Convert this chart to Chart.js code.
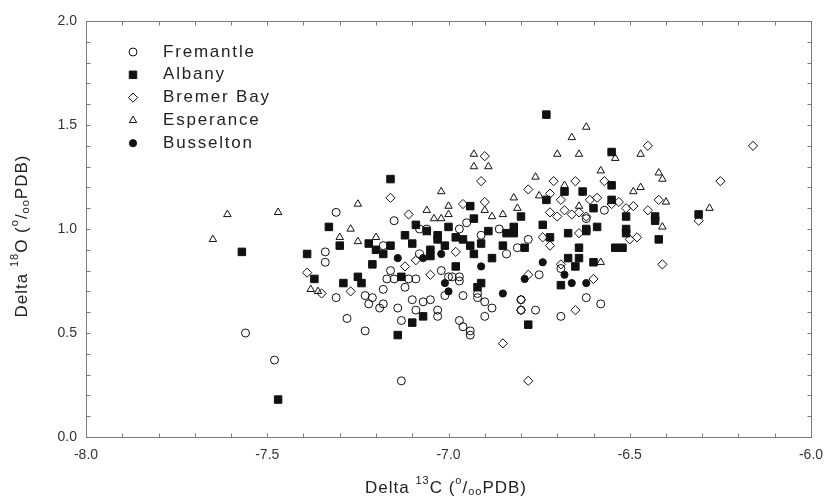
<!DOCTYPE html>
<html>
<head>
<meta charset="utf-8">
<script src="https://cdn.jsdelivr.net/npm/chart.js@4.4.1/dist/chart.umd.min.js"></script>
<style>
html, body { margin: 0; padding: 0; background: #fff; }
#wrap { width: 836px; height: 501px; }
</style>
</head>
<body>
<div id="wrap"><canvas id="scatter-chart"></canvas></div>
<script>
// [delta 13C, delta 18O]
var fremantle = [
  [-7.56,0.50],[-7.48,0.37],[-7.34,0.89],[-7.34,0.84],[-7.31,1.08],[-7.15,1.04],[-7.18,0.92],
  [-7.08,0.88],[-7.08,1.00],[-7.06,1.00],[-6.97,1.00],[-7.16,0.80],[-7.17,0.76],[-7.15,0.76],
  [-7.11,0.76],[-7.09,0.76],[-7.02,0.80],[-7.00,0.77],[-6.99,0.77],[-6.97,0.77],[-7.31,0.67],
  [-7.23,0.68],[-7.21,0.67],[-7.18,0.71],[-7.22,0.64],[-7.18,0.64],[-7.19,0.62],[-7.14,0.62],
  [-7.28,0.57],[-7.23,0.51],[-7.13,0.56],[-7.10,0.66],[-7.09,0.61],[-7.07,0.65],[-7.05,0.66],
  [-7.03,0.61],[-7.03,0.58],[-7.12,0.72],[-7.13,0.27],[-7.01,0.68],[-6.96,0.68],[-6.97,0.56],
  [-6.96,0.53],[-6.94,0.51],[-6.94,0.49],[-6.92,0.69],[-6.92,0.67],[-6.90,0.65],[-6.88,0.62],
  [-6.90,0.58],[-6.97,0.75],[-6.78,0.95],[-6.81,0.91],[-6.84,0.88],[-6.75,0.78],[-6.69,0.81],
  [-6.69,0.58],[-6.80,0.66],[-6.80,0.61],[-6.76,0.61],[-6.62,0.67],[-6.58,0.64],[-6.62,1.05],
  [-6.57,1.09],[-6.95,1.03],[-6.91,0.97],[-6.86,1.00]
];
var albany = [
  [-7.57,0.89],[-7.47,0.18],[-7.39,0.88],[-7.37,0.76],[-7.33,1.01],[-7.16,1.24],[-7.30,0.92],
  [-7.22,0.93],[-7.20,0.90],[-7.18,0.88],[-7.16,0.92],[-7.21,0.83],[-7.05,0.90],[-7.05,0.87],
  [-7.29,0.74],[-7.25,0.77],[-7.24,0.74],[-7.13,0.77],[-6.98,0.82],[-6.94,1.11],[-6.93,1.05],
  [-7.03,0.97],[-7.00,1.01],[-7.03,0.95],[-7.01,0.92],[-6.98,0.96],[-6.96,0.95],[-6.94,0.92],
  [-6.93,0.88],[-7.09,1.02],[-7.06,0.99],[-6.73,1.55],[-6.55,1.37],[-6.55,1.21],[-6.63,1.18],
  [-6.68,1.18],[-6.73,1.14],[-6.55,1.14],[-6.60,1.10],[-6.80,1.06],[-6.51,1.06],[-6.82,1.01],
  [-6.74,1.02],[-6.62,1.00],[-6.59,1.01],[-6.43,1.06],[-6.43,1.04],[-6.31,1.07],[-6.51,1.00],
  [-6.92,0.72],[-6.91,0.74],[-7.07,0.58],[-7.10,0.55],[-7.14,0.49],[-6.84,0.98],[-6.82,0.98],
  [-6.85,0.92],[-6.79,0.91],[-6.72,0.96],[-6.67,0.98],[-6.64,0.91],[-6.62,0.99],[-6.54,0.91],
  [-6.52,0.91],[-6.51,0.98],[-6.42,0.95],[-6.67,0.86],[-6.64,0.86],[-6.65,0.82],[-6.60,0.84],
  [-6.69,0.73],[-6.78,0.54],[-7.10,0.93],[-7.12,0.97],[-6.91,0.93],[-6.89,0.99],[-6.88,0.86]
];
var bremerBay = [
  [-7.39,0.79],[-7.16,1.15],[-7.11,1.07],[-7.12,0.82],[-7.09,0.85],[-7.05,0.78],[-6.98,0.89],
  [-6.96,1.12],[-7.27,0.70],[-7.35,0.69],[-6.85,0.45],[-6.80,0.66],[-6.80,0.61],[-6.90,1.35],
  [-6.91,1.23],[-6.71,1.23],[-6.65,1.23],[-6.57,1.23],[-6.78,1.19],[-6.72,1.17],[-6.69,1.14],
  [-6.61,1.14],[-6.59,1.15],[-6.55,1.12],[-6.51,1.10],[-6.49,1.11],[-6.90,1.13],[-6.45,1.40],
  [-6.16,1.40],[-6.25,1.23],[-6.42,1.14],[-6.53,1.13],[-6.45,1.09],[-6.31,1.04],[-6.74,0.96],
  [-6.72,0.92],[-6.64,0.98],[-6.48,0.96],[-6.50,0.95],[-6.60,0.76],[-6.65,0.61],[-6.78,0.78],
  [-6.69,0.83],[-6.78,0.27],[-6.72,1.08],[-6.70,1.06],[-6.68,1.09],[-6.66,1.07],[-6.64,1.08],
  [-6.62,1.06],[-6.41,0.83]
];
var esperance = [
  [-7.61,1.07],[-7.47,1.08],[-7.65,0.95],[-7.38,0.71],[-7.36,0.70],[-7.25,1.12],[-7.02,1.18],
  [-7.27,1.00],[-7.30,0.96],[-7.25,0.94],[-7.20,0.96],[-7.06,1.09],[-7.04,1.05],[-7.02,1.05],
  [-7.00,1.07],[-7.00,1.11],[-6.93,1.36],[-6.93,1.30],[-6.89,1.30],[-6.62,1.49],[-6.66,1.44],
  [-6.70,1.36],[-6.64,1.36],[-6.54,1.34],[-6.47,1.36],[-6.76,1.25],[-6.58,1.28],[-6.68,1.21],
  [-6.49,1.18],[-6.75,1.16],[-6.82,1.15],[-6.81,1.10],[-6.64,1.11],[-6.90,1.09],[-6.85,1.07],
  [-6.88,1.06],[-6.42,1.27],[-6.41,1.24],[-6.47,1.20],[-6.40,1.13],[-6.28,1.10],[-6.41,1.01],
  [-6.58,0.84]
];
var busselton = [
  [-7.14,0.86],[-7.07,0.86],[-7.00,0.70],[-7.01,0.74],[-6.85,0.69],[-6.74,0.84],[-6.79,0.76],
  [-6.68,0.78],[-6.66,0.74],[-6.62,0.74],[-6.91,0.82],[-7.02,0.88]
];

var xTitle = [['Delta ', 0], ['13', -1], ['C (', 0], ['o', -1], ['/', 0], ['oo', 1], ['PDB)', 0]];
var yTitle = [['Delta ', 0], ['18', -1], ['O (', 0], ['o', -1], ['/', 0], ['oo', 1], ['PDB)', 0]];

function pts(arr) {
  return arr.map(function (p) { return { x: p[0], y: p[1] }; });
}

var ink = '#111';
var fontFamily = "'Liberation Sans', Arial, Helvetica, sans-serif";

// frame with inward ticks on all four sides
var framePlugin = {
  id: 'frame',
  beforeDatasetsDraw: function (chart) {
    var ctx = chart.ctx, a = chart.chartArea;
    var l = Math.round(a.left) + 0.5, r = Math.round(a.right) + 0.5;
    var t = Math.round(a.top) + 0.5, b = Math.round(a.bottom) + 0.5;
    ctx.save();
    ctx.strokeStyle = '#7a7a7a';
    ctx.lineWidth = 1;
    ctx.strokeRect(l, t, r - l, b - t);
    ctx.beginPath();
    chart.scales.x.ticks.forEach(function (tk) {
      var px = Math.round(chart.scales.x.getPixelForValue(tk.value)) + 0.5;
      ctx.moveTo(px, b); ctx.lineTo(px, b - 4);
      ctx.moveTo(px, t); ctx.lineTo(px, t + 4);
    });
    chart.scales.y.ticks.forEach(function (tk) {
      var py = Math.round(chart.scales.y.getPixelForValue(tk.value)) + 0.5;
      ctx.moveTo(l, py); ctx.lineTo(l + 4, py);
      ctx.moveTo(r, py); ctx.lineTo(r - 4, py);
    });
    ctx.stroke();
    ctx.restore();
  }
};

function richText(ctx, parts, cx, cy, size) {
  var small = Math.round(size * 0.65);
  var w = 0;
  parts.forEach(function (p) {
    ctx.font = (p[1] ? small : size) + 'px ' + fontFamily;
    w += ctx.measureText(p[0]).width;
  });
  var x = cx - w / 2;
  parts.forEach(function (p) {
    ctx.font = (p[1] ? small : size) + 'px ' + fontFamily;
    var dy = p[1] < 0 ? -size * 0.4 : (p[1] > 0 ? size * 0.25 : 0);
    ctx.fillText(p[0], x, cy + dy);
    x += ctx.measureText(p[0]).width;
  });
}

// axis titles with super/subscripts, and the legend inside the plot
var textPlugin = {
  id: 'texts',
  afterDraw: function (chart) {
    var ctx = chart.ctx;
    ctx.save();
    ctx.fillStyle = '#222';
    ctx.textBaseline = 'middle';
    ctx.textAlign = 'left';
    ctx.letterSpacing = '1px';
    richText(ctx, xTitle, 446, 488, 17);
    ctx.save();
    ctx.translate(22, 236);
    ctx.rotate(-Math.PI / 2);
    richText(ctx, yTitle, 0, 0, 17);
    ctx.restore();

    ctx.letterSpacing = '1.8px';
    ctx.font = '17px ' + fontFamily;
    chart.data.datasets.forEach(function (ds, i) {
      var y = 52 + i * 22.8;
      ctx.fillStyle = ds.backgroundColor;
      ctx.strokeStyle = ds.borderColor;
      ctx.lineWidth = ds.borderWidth;
      Chart.helpers.drawPoint(ctx, {
        pointStyle: ds.pointStyle, radius: ds.pointRadius, borderWidth: ds.borderWidth, rotation: 0
      }, 133, y);
      ctx.fillStyle = '#222';
      ctx.fillText(ds.label, 163, y);
    });
    ctx.restore();
  }
};

function tickLabel(v) {
  var n = Math.round(v * 10);
  return Math.abs(n % 5) === 0 ? (n / 10).toFixed(1) : '';
}

new Chart(document.getElementById('scatter-chart'), {
  type: 'scatter',
  data: {
    datasets: [{
      label: 'Fremantle',
      data: pts(fremantle),
      pointStyle: 'circle',
      pointRadius: 4,
      borderWidth: 1,
      borderColor: ink,
      backgroundColor: 'rgba(0,0,0,0)'
    }, {
      label: 'Albany',
      data: pts(albany),
      pointStyle: 'rect',
      pointRadius: 5.3,
      borderWidth: 1,
      borderColor: ink,
      backgroundColor: ink
    }, {
      label: 'Bremer Bay',
      data: pts(bremerBay),
      pointStyle: 'rectRot',
      pointRadius: 4.6,
      borderWidth: 1,
      borderColor: ink,
      backgroundColor: 'rgba(0,0,0,0)'
    }, {
      label: 'Esperance',
      data: pts(esperance),
      pointStyle: 'triangle',
      pointRadius: 4.3,
      borderWidth: 1,
      borderColor: ink,
      backgroundColor: 'rgba(0,0,0,0)'
    }, {
      label: 'Busselton',
      data: pts(busselton),
      pointStyle: 'circle',
      pointRadius: 3.6,
      borderWidth: 1,
      borderColor: ink,
      backgroundColor: ink
    }]
  },
  options: {
    responsive: true,
    maintainAspectRatio: false,
    animation: false,
    devicePixelRatio: 1,
    layout: { padding: { left: 0, right: 25, top: 21, bottom: 0 } },
    plugins: {
      legend: { display: false },
      tooltip: { enabled: false }
    },
    scales: {
      x: {
        type: 'linear',
        min: -8,
        max: -6,
        grid: { display: false, drawTicks: false },
        border: { display: false },
        ticks: {
          stepSize: 0.1,
          autoSkip: false,
          maxRotation: 0,
          padding: 10,
          color: '#333',
          font: { family: fontFamily, size: 14 },
          callback: tickLabel
        },
        afterFit: function (s) { s.height = 64; }
      },
      y: {
        type: 'linear',
        min: 0,
        max: 2,
        grid: { display: false, drawTicks: false },
        border: { display: false },
        ticks: {
          stepSize: 0.1,
          autoSkip: false,
          padding: 9,
          color: '#333',
          font: { family: fontFamily, size: 14 },
          callback: tickLabel
        },
        afterFit: function (s) { s.width = 86; }
      }
    }
  },
  plugins: [framePlugin, textPlugin]
});
</script>
</body>
</html>
